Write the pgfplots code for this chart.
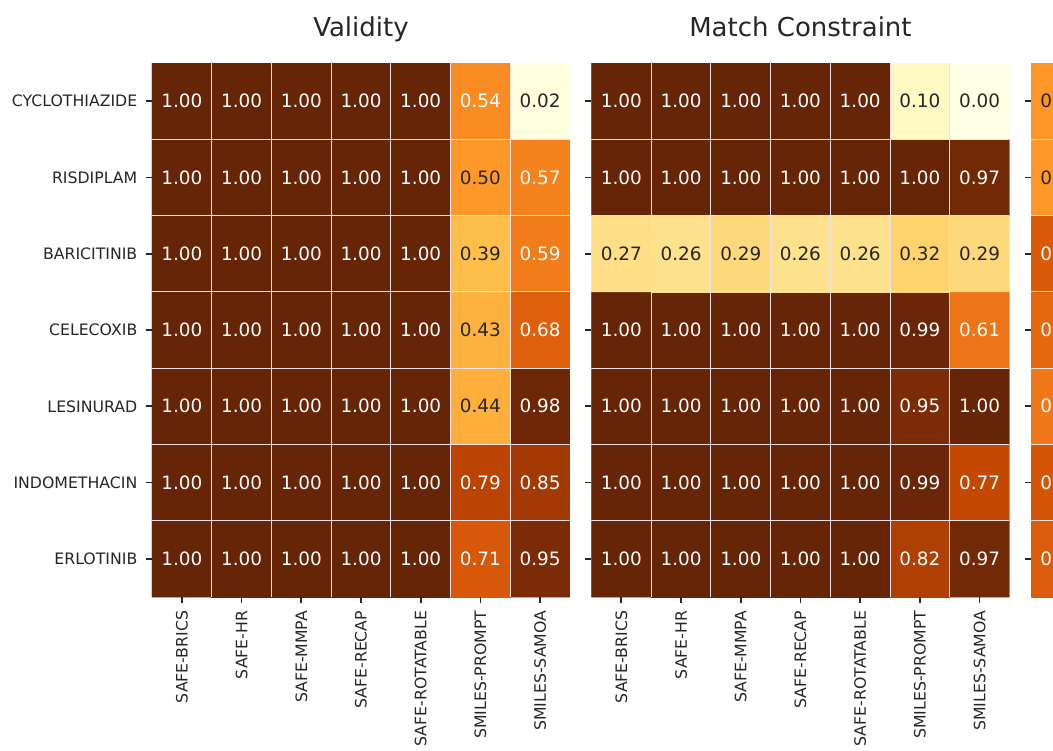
\documentclass[border=0pt]{standalone}
\usepackage{pgfplots}
\pgfplotsset{compat=1.18}
\usepackage{pgfplotstable}
\usepackage{fontspec}
\setmainfont{DejaVu Sans}
\definecolor{txt}{HTML}{262626}
\definecolor{gridc}{HTML}{EEE2EA}

% y = 0 (ERLOTINIB, bottom) ... 6 (CYCLOTHIAZIDE, top)
\pgfplotstableread{
x y v
0 0 1.00
1 0 1.00
2 0 1.00
3 0 1.00
4 0 1.00
5 0 0.71
6 0 0.95
0 1 1.00
1 1 1.00
2 1 1.00
3 1 1.00
4 1 1.00
5 1 0.79
6 1 0.85
0 2 1.00
1 2 1.00
2 2 1.00
3 2 1.00
4 2 1.00
5 2 0.44
6 2 0.98
0 3 1.00
1 3 1.00
2 3 1.00
3 3 1.00
4 3 1.00
5 3 0.43
6 3 0.68
0 4 1.00
1 4 1.00
2 4 1.00
3 4 1.00
4 4 1.00
5 4 0.39
6 4 0.59
0 5 1.00
1 5 1.00
2 5 1.00
3 5 1.00
4 5 1.00
5 5 0.50
6 5 0.57
0 6 1.00
1 6 1.00
2 6 1.00
3 6 1.00
4 6 1.00
5 6 0.54
6 6 0.02
}\validity

\pgfplotstableread{
x y v
0 0 1.00
1 0 1.00
2 0 1.00
3 0 1.00
4 0 1.00
5 0 0.82
6 0 0.97
0 1 1.00
1 1 1.00
2 1 1.00
3 1 1.00
4 1 1.00
5 1 0.99
6 1 0.77
0 2 1.00
1 2 1.00
2 2 1.00
3 2 1.00
4 2 1.00
5 2 0.95
6 2 1.00
0 3 1.00
1 3 1.00
2 3 1.00
3 3 1.00
4 3 1.00
5 3 0.99
6 3 0.61
0 4 0.27
1 4 0.26
2 4 0.29
3 4 0.26
4 4 0.26
5 4 0.32
6 4 0.29
0 5 1.00
1 5 1.00
2 5 1.00
3 5 1.00
4 5 1.00
5 5 1.00
6 5 0.97
0 6 1.00
1 6 1.00
2 6 1.00
3 6 1.00
4 6 1.00
5 6 0.10
6 6 0.00
}\match

% third panel: only its first column is visible
\pgfplotstableread{
x y v
0 0 0.69
0 1 0.72
0 2 0.60
0 3 0.65
0 4 0.70
0 5 0.50
0 6 0.51
}\third

\pgfplotstableread{
x y v
-0.5 -0.5 0.69
0.5 -0.5 0.69
0.5 0.5 0.69
-0.5 0.5 0.69
-0.5 0.5 0.72
0.5 0.5 0.72
0.5 1.5 0.72
-0.5 1.5 0.72
-0.5 1.5 0.60
0.5 1.5 0.60
0.5 2.5 0.60
-0.5 2.5 0.60
-0.5 2.5 0.65
0.5 2.5 0.65
0.5 3.5 0.65
-0.5 3.5 0.65
-0.5 3.5 0.70
0.5 3.5 0.70
0.5 4.5 0.70
-0.5 4.5 0.70
-0.5 4.5 0.50
0.5 4.5 0.50
0.5 5.5 0.50
-0.5 5.5 0.50
-0.5 5.5 0.51
0.5 5.5 0.51
0.5 6.5 0.51
-0.5 6.5 0.51
}\thirdpatch

\pgfplotsset{
  hm/.style={
    scale only axis, width=313.5pt, height=400.5pt,
    xmin=-0.5, xmax=6.5, ymin=-0.5, ymax=6.5,
    enlargelimits=false,
    axis line style={draw=none},
    xtick={0,...,6}, ytick={0,...,6},
    xticklabels={SAFE-BRICS,SAFE-HR,SAFE-MMPA,SAFE-RECAP,SAFE-ROTATABLE,SMILES-PROMPT,SMILES-SAMOA},
    tick align=outside, tick pos=left, major tick length=4.8pt,
    major tick style={draw=txt, line width=1.3pt},
    minor xtick={0.5,1.5,2.5,3.5,4.5,5.5}, minor ytick={0.5,1.5,2.5,3.5,4.5,5.5},
    minor tick length=0pt, xminorgrids, yminorgrids,
    minor grid style={draw=gridc, line width=0.7pt},
    axis on top,
    colormap={ylorbr}{rgb255=(255,255,229) rgb255=(255,247,188) rgb255=(254,227,145) rgb255=(254,196,79) rgb255=(254,153,41) rgb255=(236,112,20) rgb255=(204,76,2) rgb255=(153,52,4) rgb255=(102,37,6)},
    point meta min=0, point meta max=1,
    xticklabel style={yshift=-2pt, rotate=90, anchor=east, font=\fontsize{11.8}{14}\selectfont, text=txt},
    yticklabel style={xshift=-2.7pt, font=\fontsize{11.8}{14}\selectfont, text=txt},
    title style={at={(0.5,1)}, anchor=base, yshift=13.75pt, inner sep=0pt, font=\fontsize{19.5}{22}\selectfont, text=txt},
  },
  myvals/.style={draw=none, mark=none, point meta=explicit symbolic,
    nodes near coords={\pgfplotspointmeta}, nodes near coords align=center,
    every node near coord/.append style={anchor=center, font=\fontsize{13.8}{16}\selectfont}},
  wvals/.style={myvals, every node near coord/.append style={text=white},
    x filter/.expression={\thisrow{v}>0.52 ? x : nan}},
  dvals/.style={myvals, every node near coord/.append style={text=txt},
    x filter/.expression={\thisrow{v}>0.52 ? nan : x}},
  heat/.style={matrix plot*, mesh/cols=7, point meta=explicit, shader=flat corner},
}

\begin{document}
\begin{tikzpicture}
\useasboundingbox (0,0) rectangle (789.75pt,562.5pt);
\clip (0,0) rectangle (789.75pt,562.5pt);

\begin{axis}[hm, at={(114pt,114.75pt)}, anchor=south west, title={Validity},
  yticklabels={ERLOTINIB,INDOMETHACIN,LESINURAD,CELECOXIB,BARICITINIB,RISDIPLAM,CYCLOTHIAZIDE}]
\addplot[heat] table[x=x, y=y, meta=v] {\validity};
\addplot[wvals] table[x=x, y=y, meta=v] {\validity};
\addplot[dvals] table[x=x, y=y, meta=v] {\validity};
\end{axis}

\begin{axis}[hm, at={(443.6pt,114.75pt)}, anchor=south west, title={Match Constraint},
  yticklabels={}]
\addplot[heat] table[x=x, y=y, meta=v] {\match};
\addplot[wvals] table[x=x, y=y, meta=v] {\match};
\addplot[dvals] table[x=x, y=y, meta=v] {\match};
\end{axis}

\begin{axis}[hm, at={(773.25pt,114.75pt)}, anchor=south west, yticklabels={}]
\addplot[patch, patch type=rectangle, shader=flat, point meta=explicit] table[x=x, y=y, meta=v] {\thirdpatch};
\addplot[wvals] table[x=x, y=y, meta=v] {\third};
\addplot[dvals] table[x=x, y=y, meta=v] {\third};
\end{axis}
\end{tikzpicture}
\end{document}
